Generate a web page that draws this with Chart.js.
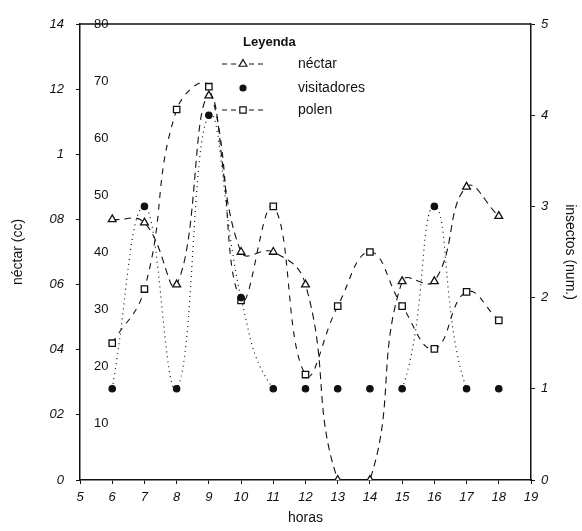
<!DOCTYPE html>
<html>
<head>
<meta charset="utf-8">
<script src="https://cdn.jsdelivr.net/npm/chart.js@4"></script>
<style>
  html, body { margin: 0; padding: 0; background: #fff; }
  #wrap { width: 582px; height: 531px; }
</style>
</head>
<body>
<div id="wrap"><canvas id="grafico" width="582" height="531"></canvas></div>
<script>
// datos
const horas = [6, 7, 8, 9, 10, 11, 12, 13, 14, 15, 16, 17, 18];
const nectar = [0.80, 0.79, 0.60, 1.18, 0.70, 0.70, 0.60, 0, 0, 0.61, 0.61, 0.90, 0.81];
const visitadores = [1, 3, 1, 4, 2, 1, 1, 1, 1, 1, 3, 1, 1];
const polen = [24, 33.5, 65, 69, 31.5, 48, 18.5, 30.5, 40, 30.5, 23, 33, 28];
const nectarTicks = ['0', '02', '04', '06', '08', '1', '12', '14'];

const FONT = '"Liberation Sans", Arial, sans-serif';
Chart.defaults.font.family = FONT;
Chart.defaults.color = '#111';

const pts = (ys) => horas.map((h, i) => ({x: h, y: ys[i]}));

// leyenda dibujada dentro del area
const leyenda = {
  id: 'leyenda',
  afterDraw(chart) {
    const ctx = chart.ctx;
    const a = chart.chartArea;
    ctx.save();
    ctx.strokeStyle = '#111';
    ctx.lineWidth = 1.5;
    ctx.beginPath();
    ctx.moveTo(a.left, a.top);
    ctx.lineTo(a.right, a.top);
    ctx.stroke();

    ctx.fillStyle = '#111';
    ctx.font = 'bold 13px ' + FONT;
    ctx.textBaseline = 'middle';
    ctx.fillText('Leyenda', 243, 42);
    ctx.font = '14px ' + FONT;
    const items = [
      {t: 'néctar', y: 64, style: 'triangle', fill: '#fff', r: 4.5, line: true},
      {t: 'visitadores', y: 88, style: 'circle', fill: '#111', r: 3, line: false},
      {t: 'polen', y: 110, style: 'rect', fill: '#fff', r: 4.5, line: true}
    ];
    items.forEach(it => {
      if (it.line) {
        ctx.setLineDash([5, 4]);
        ctx.lineWidth = 1;
        ctx.beginPath();
        ctx.moveTo(222, it.y);
        ctx.lineTo(264, it.y);
        ctx.stroke();
        ctx.setLineDash([]);
      }
      ctx.fillStyle = it.fill;
      ctx.strokeStyle = '#111';
      ctx.lineWidth = 1.2;
      Chart.helpers.drawPoint(ctx, {pointStyle: it.style, radius: it.r, borderWidth: 1.2,
        rotation: 0}, 243, it.y);
      ctx.fillStyle = '#111';
      ctx.fillText(it.t, 298, it.y);
    });
    ctx.restore();
  }
};

const plano = (p0, p1) => p0.parsed.y === 1 && p1.parsed.y === 1;

new Chart(document.getElementById('grafico'), {
  type: 'line',
  data: {
    datasets: [
      {
        label: 'néctar',
        data: pts(nectar),
        yAxisID: 'yN',
        borderColor: '#111',
        borderWidth: 1.1,
        borderDash: [7, 5],
        pointStyle: 'triangle',
        pointRadius: 4.5,
        pointBackgroundColor: '#fff',
        pointBorderColor: '#111',
        pointBorderWidth: 1.3,
        tension: 0.45,
        fill: false
      },
      {
        label: 'visitadores',
        data: pts(visitadores),
        yAxisID: 'yI',
        borderColor: '#111',
        borderWidth: 1.2,
        borderDash: [1, 4],
        segment: {
          borderColor: c => plano(c.p0, c.p1) ? 'rgba(0,0,0,0)' : '#111'
        },
        pointStyle: 'circle',
        pointRadius: 3.2,
        pointBackgroundColor: '#111',
        pointBorderColor: '#111',
        tension: 0.45,
        fill: false
      },
      {
        label: 'polen',
        data: pts(polen),
        yAxisID: 'yP',
        borderColor: '#111',
        borderWidth: 1.1,
        borderDash: [6, 6],
        pointStyle: 'rect',
        pointRadius: 4.5,
        pointBackgroundColor: '#fff',
        pointBorderColor: '#111',
        pointBorderWidth: 1.3,
        tension: 0.45,
        fill: false
      }
    ]
  },
  options: {
    responsive: false,
    animation: false,
    layout: { padding: { top: 24, left: 0, right: 0, bottom: 0 } },
    plugins: {
      legend: { display: false },
      tooltip: { enabled: false }
    },
    scales: {
      x: {
        type: 'linear',
        min: 5,
        max: 19,
        grid: { display: true, drawOnChartArea: false, tickLength: 4, color: '#111' },
        border: { color: '#111', width: 1.5 },
        ticks: { stepSize: 1, font: { size: 13, style: 'italic' }, padding: 6, maxRotation: 0 },
        title: { display: true, text: 'horas', font: { size: 14 }, padding: { top: 2 } },
        afterFit: s => { s.height = 51; }
      },
      yN: {
        position: 'left',
        weight: 1,
        min: 0,
        max: 1.4,
        grid: { display: true, drawOnChartArea: false, tickLength: 4, color: '#111' },
        border: { color: '#111', width: 1.5 },
        ticks: {
          stepSize: 0.2,
          font: { size: 13, style: 'italic' },
          padding: 12,
          callback: (v, i) => nectarTicks[i]
        },
        title: { display: true, text: 'néctar (cc)', font: { size: 14 }, padding: { top: 10, bottom: 4 } },
        afterFit: s => { s.width = 80; }
      },
      yP: {
        position: 'left',
        weight: 0,
        min: 0,
        max: 80,
        grid: { display: false, drawTicks: false },
        border: { display: false },
        ticks: {
          stepSize: 10,
          mirror: true,
          padding: 14,
          font: { size: 13 },
          callback: v => v === 0 ? '' : v
        },
        afterFit: s => { s.width = 0; }
      },
      yI: {
        position: 'right',
        min: 0,
        max: 5,
        grid: { display: true, drawOnChartArea: false, tickLength: 4, color: '#111' },
        border: { color: '#111', width: 1.5 },
        ticks: { stepSize: 1, font: { size: 13, style: 'italic' }, padding: 6 },
        title: { display: true, text: 'insectos (num.)', font: { size: 14 }, padding: 4 },
        afterFit: s => { s.width = 51; }
      }
    }
  },
  plugins: [leyenda]
});
</script>
</body>
</html>
